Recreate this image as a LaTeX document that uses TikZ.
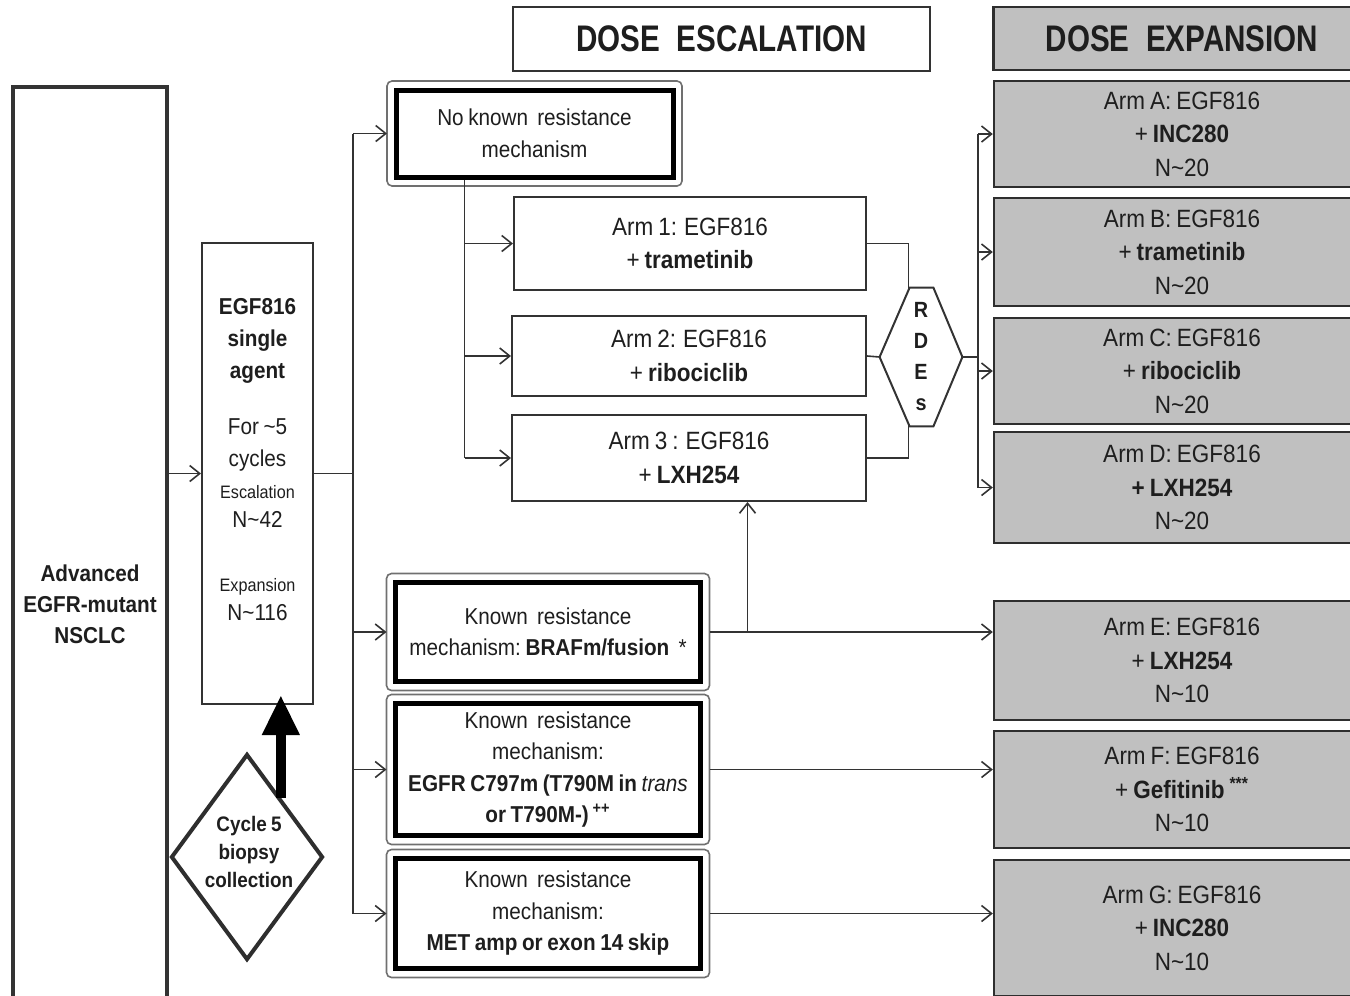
\documentclass[tikz,border=0pt]{standalone}
\usepackage{fontspec}
\setmainfont[FakeStretch=0.9,WordSpace=0.8]{Liberation Sans}
\newfontfamily\headfont[FakeStretch=0.8]{Liberation Sans}
\usetikzlibrary{arrows.meta,calc,shapes.geometric}
\definecolor{ln}{HTML}{333333}
\definecolor{gfill}{HTML}{C0C0C0}
\definecolor{txt}{HTML}{1E1E1E}
\newcommand{\outerframe}[1]{\draw[draw=ln!70, line width=0.8pt, rounded corners=2.5pt] ([shift={(-6.5,-6.5)}]#1.north west) rectangle ([shift={(6.5,6.5)}]#1.south east);}
\begin{document}
\begin{tikzpicture}[x=0.5pt,y=-0.5pt,
  every node/.style={text=txt, align=center, inner sep=0pt},
  box/.style={draw=ln, line width=1pt, rectangle, fill=white},
  gbox/.style={draw=ln!90!black, line width=1.2pt, rectangle, fill=gfill},
  kbox/.style={draw=black, line width=2.5pt, rectangle, fill=white},
  conn/.style={draw=ln, line width=0.8pt},
  arr/.style={conn, -{Straight Barb[length=5pt,width=8pt]}},
  body/.style={font=\fontsize{12.5}{16.75}\selectfont},
  kfont/.style={font=\fontsize{11.5}{15.75}\selectfont},
  headtxt/.style={font=\headfont\bfseries\fontsize{18.5}{20}\selectfont},
]
\useasboundingbox (0,0) rectangle (1350,996);
\clip (0,0) rectangle (1350,996);

% headers
\node[box, line width=1.2pt, minimum width=208.5pt, minimum height=32pt, headtxt] (esc) at (721.5,39) {DOSE\ \ ESCALATION};
\node[gbox, minimum width=188.5pt, minimum height=31.5pt, headtxt] (exph) at (1182,38.5) {DOSE\ \ EXPANSION};

% left column
\node[box, line width=1.6pt, minimum width=77pt, minimum height=517pt, font=\bfseries\fontsize{11.5}{15.5}\selectfont] (adv) at (90,604) {Advanced\\EGFR-mutant\\NSCLC};
\node[box, minimum width=55.5pt, minimum height=230.5pt] (egf) at (257.5,473.5) {};
\node[font=\fontsize{11.5}{16}\selectfont] (egftext) at (257.5,460) {\textbf{EGF816}\\\textbf{single}\\\textbf{agent}\\[12pt]For \textasciitilde5\\cycles\\{\fontsize{9}{16}\selectfont Escalation}\\[-1.5pt]N\textasciitilde42\\[16pt]{\fontsize{9}{16}\selectfont Expansion}\\[-1.5pt]N\textasciitilde116};
\node[diamond, draw=ln!90!black, line width=2pt, minimum width=76pt, minimum height=103pt, inner sep=0pt, fill=white] (dia) at (247,857) {};
\node[font=\bfseries\fontsize{10.5}{14}\selectfont] (diatext) at (249,852) {Cycle 5\\biopsy\\collection};
\coordinate (bstart) at ($(dia.north)!0.434!(dia.east)$);
\draw[line width=5pt, black, -{Triangle[length=20pt,width=17.5pt]}, shorten >=-5pt] (bstart) -- (bstart |- egf.south);

% resistance boxes
\node[kbox, minimum width=138.5pt, minimum height=43.5pt, kfont] (nk) at (534.5,133.5) {No known\ \ resistance\\mechanism};
\outerframe{nk}
\node[kbox, minimum width=152.5pt, minimum height=49.5pt, kfont] (brf) at (548,632) {Known\ \ resistance\\mechanism:\ \textbf{BRAFm/fusion}\ \ *};
\outerframe{brf}
\node[kbox, minimum width=152.5pt, minimum height=66pt, kfont] (egfr) at (548,769.5) {Known\ \ resistance\\mechanism:\\\textbf{EGFR C797m (T790M in {\mdseries\itshape trans}}\\\textbf{or T790M-)}\,\textsuperscript{\textbf{++}}};
\outerframe{egfr}
\node[kbox, minimum width=152.5pt, minimum height=55pt, kfont] (met) at (548,913.5) {Known\ \ resistance\\mechanism:\\\textbf{MET amp or exon 14 skip}};
\outerframe{met}

% escalation arms
\node[box, minimum width=176pt, minimum height=46.5pt, body] (a1) at (690,243.5) {Arm 1: EGF816\\+ \textbf{trametinib}};
\node[box, minimum width=177pt, minimum height=40pt, body] (a2) at (689,356) {Arm 2: EGF816\\+ \textbf{ribociclib}};
\node[box, minimum width=177pt, minimum height=43pt, body] (a3) at (689,458) {Arm 3 : EGF816\\+ \textbf{LXH254}};

% RDEs hexagon
\node[minimum width=41pt, minimum height=69pt, font=\bfseries\fontsize{11}{15.5}\selectfont] (rdes) at (921,357) {R\\D\\E\\s};
\draw[conn, line width=1pt] (rdes.west) -- ($(rdes.north west)+(30,0)$) -- ($(rdes.north east)+(-29,0)$) -- (rdes.east) -- ($(rdes.south east)+(-29,0)$) -- ($(rdes.south west)+(30,0)$) -- cycle;

% expansion arms
\node[gbox, minimum width=188pt, minimum height=53pt, body] (armA) at (1182,134) {Arm A: EGF816\\+ \textbf{INC280}\\N\textasciitilde20};
\node[gbox, minimum width=188pt, minimum height=54pt, body] (armB) at (1182,252) {Arm B: EGF816\\+ \textbf{trametinib}\\N\textasciitilde20};
\node[gbox, minimum width=188pt, minimum height=53pt, body] (armC) at (1182,371) {Arm C: EGF816\\+ \textbf{ribociclib}\\N\textasciitilde20};
\node[gbox, minimum width=188pt, minimum height=55.5pt, body] (armD) at (1182,487.5) {Arm D: EGF816\\\textbf{+ LXH254}\\N\textasciitilde20};
\node[gbox, minimum width=188pt, minimum height=59.5pt, body] (armE) at (1182,660.5) {Arm E: EGF816\\+ \textbf{LXH254}\\N\textasciitilde10};
\node[gbox, minimum width=188pt, minimum height=58.5pt, body] (armF) at (1182,789.5) {Arm F: EGF816\\+ \textbf{Gefitinib} \textsuperscript{\textbf{***}}\\N\textasciitilde10};
\node[gbox, minimum width=188pt, minimum height=68pt, body] (armG) at (1182,928) {Arm G: EGF816\\+ \textbf{INC280}\\N\textasciitilde10};

% connectors left
\draw[arr] (adv.east |- egf.west) -- (egf.west);
\coordinate (tr) at (353,473.5);
\draw[conn] (egf.east) -- (tr);
\draw[conn] (tr |- nk.west) -- (tr |- met.west);
\foreach \n in {nk,brf,egfr,met} \draw[arr, shorten >=3.25pt] (tr |- \n.west) -- (\n.west);

% no known -> arms 1-3
\coordinate (nb) at ($(nk.south west)+(71,0)$);
\draw[conn] (nb) -- (nb |- a3.west);
\foreach \n in {a1,a2,a3} \draw[arr] (nb |- \n.west) -- (\n.west);

% arms -> RDEs
\draw[conn] (a1.east) -| ($(rdes.north west)+(29,0)$);
\draw[conn] (a2.east) -- (rdes.west);
\draw[conn] (a3.east) -| ($(rdes.south west)+(29,0)$);
\coordinate (rj) at (978,357);
\draw[conn] (rdes.east) -- (rj);
\draw[conn] (rj |- armA.west) -- (rj |- armD.west);
\foreach \n in {armA,armB,armC,armD} \draw[arr] (rj |- \n.west) -- (\n.west);

% known resistance -> expansion
\draw[arr, shorten <=3.25pt] (brf.east) -- (brf.east -| armE.west);
\coordinate (bj) at ($(brf.east)+(44.5,0)$);
\draw[arr] (bj) -- (bj |- a3.south);
\draw[arr, shorten <=3.25pt] (egfr.east) -- (egfr.east -| armF.west);
\draw[arr, shorten <=3.25pt] (met.east) -- (met.east -| armG.west);
\end{tikzpicture}
\end{document}
